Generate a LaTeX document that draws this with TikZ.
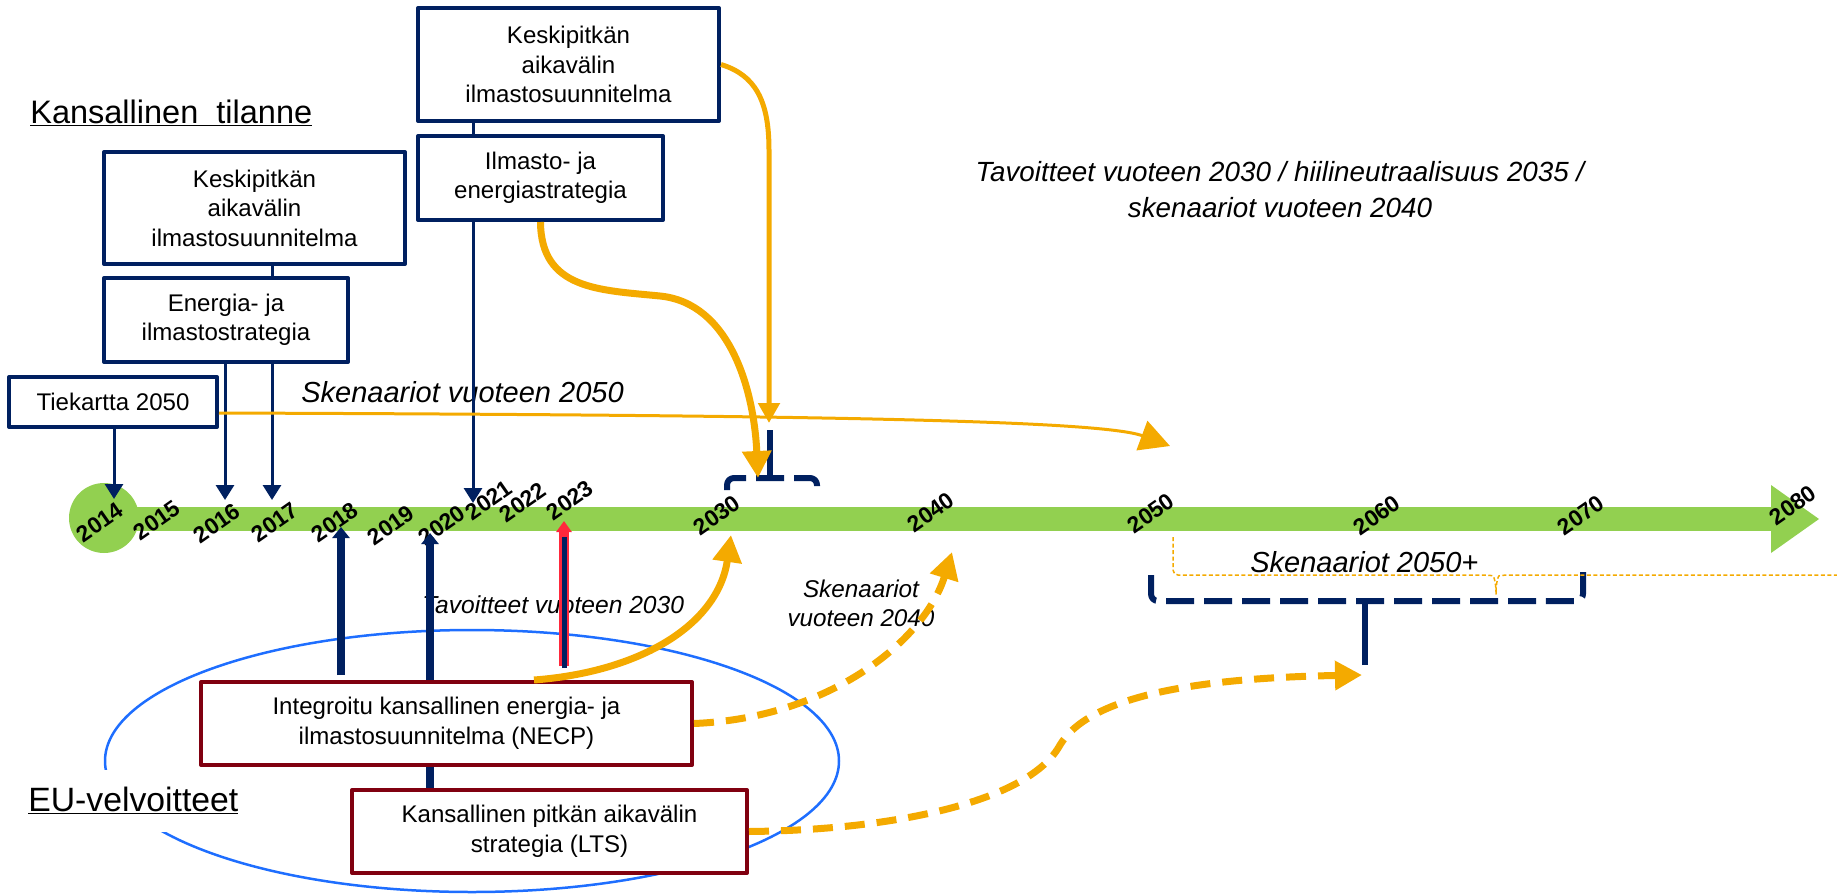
\documentclass[tikz,border=0pt]{standalone}
\usepackage{fontspec}
\setmainfont{Liberation Sans}
\usetikzlibrary{arrows.meta, positioning}

\definecolor{navy}{RGB}{0,32,96}
\definecolor{eured}{RGB}{128,0,16}
\definecolor{gold}{RGB}{244,170,0}
\definecolor{bargreen}{RGB}{146,208,80}
\definecolor{eublue}{RGB}{30,110,255}
\definecolor{signal}{RGB}{255,40,60}
\newcommand{\pxl}{0.02cm}
\newcommand{\boxfont}{\fontsize{13.7}{16.8}\selectfont}

\begin{document}
\begin{tikzpicture}[x=0.02cm, y=-0.02cm, line join=round,
    natbox/.style={draw=navy, line width=0.08cm, fill=white, inner sep=0pt, align=center, font=\boxfont},
    eubox/.style={draw=eured, line width=0.08cm, fill=white, inner sep=0pt, align=center, font=\boxfont},
    heading/.style={inner sep=0pt, font=\fontsize{18.5}{22}\selectfont},
    yearlbl/.style={inner sep=0pt, rotate=35, font=\bfseries\fontsize{13}{13}\selectfont},
    note/.style={inner sep=0pt, align=center, font=\itshape\fontsize{14}{16.5}\selectfont},
    bignote/.style={inner sep=0pt, align=center, font=\itshape\fontsize{16.5}{20.5}\selectfont},
    navyline/.style={draw=navy, line width=0.06cm},
    navythin/.style={navyline, -{Triangle[width=0.36cm, length=0.3cm]}},
    navythick/.style={draw=navy, line width=0.16cm, -{Triangle[width=0.34cm, length=0.22cm]}},
    redarrow/.style={draw=signal, line width=0.2cm, -{Triangle[width=0.3cm, length=0.22cm]}},
    bracket/.style={draw=navy, line width=0.12cm, dash pattern=on 0.56cm off 0.2cm, dash phase=0.7cm, rounded corners=0.14cm},
    stem/.style={draw=navy, line width=0.12cm},
    orthin/.style={draw=gold, line width=0.06cm, -{Triangle[width=0.62cm, length=0.6cm]}},
    ormid/.style={draw=gold, line width=0.1cm, -{Triangle[width=0.42cm, length=0.4cm]}},
    orthick/.style={draw=gold, line width=0.14cm, -{Triangle[width=0.56cm, length=0.54cm]}},
    ordash/.style={orthick, dash pattern=on 0.4cm off 0.24cm},
    bracedot/.style={draw=gold, line width=0.03cm, dash pattern=on 0.08cm off 0.05cm, rounded corners=0.1cm}]
    \useasboundingbox (0,0) rectangle (1837,896);

    % EU frame
    \draw[eublue, line width=0.05cm] (472,761) ellipse [x radius=367, y radius=131];

    % timeline
    \fill[bargreen] (104,518) circle [radius=35];
    \fill[bargreen] (104,507) rectangle (1771,531);
    \fill[bargreen] (1771,485) -- (1819,519) -- (1771,553) -- cycle;
    \foreach \yr/\xx/\yy in {2014/100/522, 2015/157/520, 2016/217/523, 2017/275/522,
        2018/335/522, 2019/391/525, 2020/442/525, 2021/489/500, 2022/523/502,
        2023/570/500, 2030/717/515, 2040/931/512, 2050/1151/513, 2060/1377/515,
        2070/1581/515, 2080/1793/505}
        \node[yearlbl] (y\yr) at (\xx,\yy) {\yr};

    % headings
    \node[heading, anchor=base west] (kans) at (30,123) {\underline{Kansallinen\ \ tilanne}};
    \node[heading, anchor=base west, fill=white, inner xsep=0.1cm, inner ysep=0.34cm,
        font=\fontsize{19.2}{22}\selectfont] (euv) at (23,811) {\underline{EU-velvoitteet}};

    % national documents
    \node[natbox, minimum width=301*\pxl, minimum height=112*\pxl] (keskA) at (254.5,208) {Keskipitkän\\aikavälin\\ilmastosuunnitelma};
    \node[natbox, minimum width=244*\pxl, minimum height=84*\pxl] (enerA) at (226,320) {Energia- ja\\ilmastostrategia};
    \node[natbox, minimum width=208*\pxl, minimum height=50*\pxl] (tiek) at (113,402) {Tiekartta 2050};
    \node[natbox, minimum width=301*\pxl, minimum height=113*\pxl] (keskB) at (568.5,64.5) {Keskipitkän\\aikavälin\\ilmastosuunnitelma};
    \node[natbox, minimum width=245*\pxl, minimum height=84*\pxl] (ilmaB) at (540.5,178) {Ilmasto- ja\\energiastrategia};

    % EU documents
    \node[eubox, minimum width=491*\pxl, minimum height=83*\pxl] (necp) at (446.5,723.5) {Integroitu kansallinen energia- ja\\ilmastosuunnitelma (NECP)};
    \node[eubox, minimum width=395*\pxl, minimum height=83*\pxl] (lts) at (549.5,831.5) {Kansallinen pitkän aikavälin\\strategia (LTS)};

    % notes
    \node[bignote, anchor=base west] (sk2050) at (301,402) {Skenaariot vuoteen 2050};
    \node[note, anchor=base west] (tav2030) at (422,613) {Tavoitteet vuoteen 2030};
    \node[note, font=\itshape\fontsize{13.8}{16.5}\selectfont] (sk2040) at (861,603) {Skenaariot\\vuoteen 2040};
    \node[bignote, font=\itshape\fontsize{15.8}{20.5}\selectfont] (tavall) at (1280,190)
        {Tavoitteet vuoteen 2030 / hiilineutraalisuus 2035 /\\skenaariot vuoteen 2040};
    \node[bignote, anchor=base west] (sk2050p) at (1250,572) {Skenaariot 2050+};

    % arrow ends on the timeline
    \coordinate (t2014) at (114,499);
    \coordinate (t2016) at (225,500);
    \coordinate (t2017) at (272,500);
    \coordinate (t2021) at (473,503);
    \coordinate (t2018) at (341,527);
    \coordinate (b2018) at (341,675);
    \coordinate (t2020) at (430,533);
    \coordinate (t2023) at (564,521);
    \coordinate (b2023) at (564,666);

    \draw[navythin] (tiek.south -| t2014) -- (t2014);
    \draw[navythin] (enerA.south -| t2016) -- (t2016);
    \draw[navythin] (enerA.south -| t2017) -- (t2017);
    \draw[navyline] (keskA.south -| t2017) -- (enerA.north -| t2017);
    \draw[navythin] (ilmaB.south -| t2021) -- (t2021);
    \draw[navyline] (keskB.south -| t2021) -- (ilmaB.north -| t2021);

    \draw[navythick] (b2018) -- (t2018);
    \draw[navythick] (necp.north -| t2020) -- (t2020);
    \draw[navythick, -] (necp.south -| t2020) -- (lts.north -| t2020);
    \draw[redarrow] (b2023) -- (t2023);
    \draw[navy, line width=0.1cm] ([yshift=-0.04cm]b2023) -- ([yshift=-0.32cm]t2023);

    % brackets
    \coordinate (brA) at (770,430);
    \coordinate (brB) at (1365,665);
    \draw[bracket] (727,493) -- (727,478) -- (817,478) -- (817,493);
    \draw[stem] (brA) -- (brA |- 0,478);
    \draw[bracket] (1151,572) -- (1151,601) -- (1583,601) -- (1583,572);
    \draw[stem] (brB) -- (brB |- 0,601);
    \draw[bracedot] (1173,537) |- (1488,575)
        .. controls (1494,576) and (1496,584) .. (1496,597)
        .. controls (1496,584) and (1498,576) .. (1504,575) -- (1837,575);

    % orange links
    \coordinate (o2050) at (1170,446);
    \coordinate (o2030a) at (769,423);
    \coordinate (o2030b) at (758,478);
    \coordinate (o2030c) at (731,535);
    \coordinate (o2040) at (952,552);
    \coordinate (o2060) at (1362,675);
    \draw[orthin] ([yshift=-0.22cm]tiek.east) .. controls (800,415) and (1100,420) .. (o2050);
    \draw[ormid] (keskB.east) .. controls (755,75) and (769,100) .. (769,150) -- (o2030a);
    \draw[orthick] (ilmaB.south) .. controls (541,290) and (600,290) .. (660,296)
        .. controls (730,303) and (754,390) .. (o2030b);
    \draw[orthick] ([xshift=1.75cm]necp.north) .. controls (640,672) and (718,625) .. (o2030c);
    \draw[ordash] (necp.east) .. controls (830,718) and (925,640) .. (o2040);
    \draw[ordash] (lts.east) .. controls (900,830) and (1030,800) .. (1060,745)
        .. controls (1090,695) and (1200,678) .. (o2060);
\end{tikzpicture}
\end{document}
